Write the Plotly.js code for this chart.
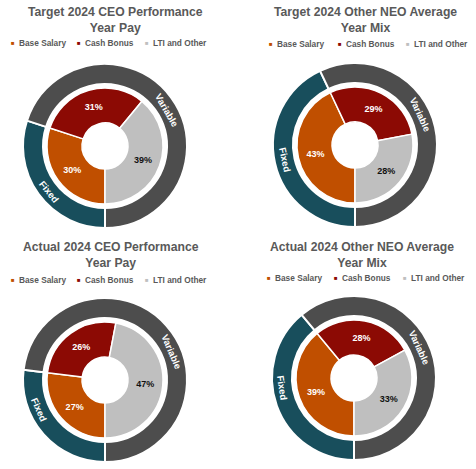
<!DOCTYPE html>
<html>
<head>
<meta charset="utf-8">
<script src="https://cdn.plot.ly/plotly-3.0.1.min.js"></script>
<style>
  html, body { margin: 0; padding: 0; background: #ffffff; }
  #chart { width: 476px; height: 469px; }
</style>
</head>
<body>
<div id="chart"></div>
<script>
// pay components (inner ring) and fixed / variable split (outer ring)
const COMPONENTS = ["Base Salary", "Cash Bonus", "LTI and Other"];
const MIX_GROUPS = ["Fixed", "Variable"];

const TARGET_CEO = [30, 31, 39];
const TARGET_NEO = [43, 29, 28];
const ACTUAL_CEO = [27, 26, 47];
const ACTUAL_NEO = [39, 28, 33];

const TARGET_CEO_MIX = [30, 70];
const TARGET_NEO_MIX = [43, 57];
const ACTUAL_CEO_MIX = [27, 73];
const ACTUAL_NEO_MIX = [39, 61];

const TITLES = [
  "Target 2024 CEO Performance<br>Year Pay",
  "Target 2024 Other NEO Average<br>Year Mix",
  "Actual 2024 CEO Performance<br>Year Pay",
  "Actual 2024 Other NEO Average<br>Year Mix",
];

const W = 476;
const H = 469;

const THEME = {
  base: "#c04f00",
  bonus: "#8c0a04",
  lti: "#bfbfbf",
  fixed: "#184e5c",
  variable: "#4d4d4d",
  title: "#595959",
  font: "\"Liberation Sans\", Arial, sans-serif",
};

// pixel placement of each panel: pie centre, title centre, legend row,
// and where the ring labels sit (degrees clockwise from 12 o'clock)
const PANELS = [
  { comp: TARGET_CEO, mix: TARGET_CEO_MIX, cx: 105, cy: 146, tx: 115, ty: 20, ly: 43, lx: [13, 79, 147], ringAt: [231, 60] },
  { comp: TARGET_NEO, mix: TARGET_NEO_MIX, cx: 355, cy: 145, tx: 365, ty: 20, ly: 44, lx: [271, 340, 408], ringAt: [258, 65] },
  { comp: ACTUAL_CEO, mix: ACTUAL_CEO_MIX, cx: 105, cy: 380, tx: 111, ty: 255, ly: 280, lx: [13, 79, 147], ringAt: [246, 67] },
  { comp: ACTUAL_NEO, mix: ACTUAL_NEO_MIX, cx: 354, cy: 378, tx: 362, ty: 255, ly: 278, lx: [269, 336, 405], ringAt: [262, 65] },
];

const OUTER_R = 82;
const OUTER_IN = 62;
const INNER_R = 58;
const INNER_IN = 23;
const START_ANGLE = 180; // first slice starts at 6 o'clock, clockwise

function domainFor(cx, cy, r) {
  return {
    x: [(cx - r) / W, (cx + r) / W],
    y: [(H - cy - r) / H, (H - cy + r) / H],
  };
}

const traces = [];
const annotations = [];

PANELS.forEach((p, i) => {
  traces.push({
    type: "pie",
    labels: MIX_GROUPS,
    values: p.mix,
    domain: domainFor(p.cx, p.cy, OUTER_R),
    hole: OUTER_IN / OUTER_R,
    sort: false,
    direction: "clockwise",
    rotation: START_ANGLE,
    showlegend: false,
    marker: { colors: [THEME.fixed, THEME.variable], line: { color: "#ffffff", width: 2 } },
    textinfo: "none",
    hoverinfo: "label+value",
  });
  traces.push({
    type: "pie",
    labels: COMPONENTS,
    values: p.comp,
    domain: domainFor(p.cx, p.cy, INNER_R),
    hole: INNER_IN / INNER_R,
    sort: false,
    direction: "clockwise",
    rotation: START_ANGLE,
    showlegend: false,
    marker: { colors: [THEME.base, THEME.bonus, THEME.lti], line: { color: "#ffffff", width: 1.5 } },
    texttemplate: "%{value}%",
    textposition: "inside",
    insidetextorientation: "horizontal",
    insidetextfont: { family: THEME.font, size: 9, color: ["#ffffff", "#ffffff", "#111111"], weight: 700 },
    hoverinfo: "label+value",
  });

  // ring labels, turned along the ring
  const rMid = (OUTER_R + OUTER_IN) / 2;
  MIX_GROUPS.forEach((name, k) => {
    const theta = p.ringAt[k];
    const rad = theta * Math.PI / 180;
    const x = p.cx + rMid * Math.sin(rad);
    const y = p.cy - rMid * Math.cos(rad);
    annotations.push({
      text: name,
      xref: "paper", yref: "paper",
      x: x / W, y: 1 - y / H,
      xanchor: "center", yanchor: "middle",
      textangle: theta % 180,
      showarrow: false,
      font: { family: THEME.font, size: 9.5, color: "#ffffff", weight: 700 },
    });
  });

  annotations.push({
    text: TITLES[i],
    xref: "paper", yref: "paper",
    x: p.tx / W, y: 1 - p.ty / H,
    xanchor: "center", yanchor: "middle",
    showarrow: false,
    font: { family: THEME.font, size: 12.2, color: THEME.title, weight: 700 },
  });

  const swatches = [THEME.base, THEME.bonus, THEME.lti];
  COMPONENTS.forEach((name, k) => {
    annotations.push({
      text: "■",
      xref: "paper", yref: "paper",
      x: p.lx[k] / W, y: 1 - p.ly / H,
      xanchor: "center", yanchor: "middle",
      showarrow: false,
      font: { family: THEME.font, size: 6, color: swatches[k] },
    });
    annotations.push({
      text: name,
      xref: "paper", yref: "paper",
      x: (p.lx[k] + 3.5) / W, y: 1 - p.ly / H,
      xanchor: "left", yanchor: "middle",
      showarrow: false,
      font: { family: THEME.font, size: 8.3, color: THEME.title, weight: 700 },
    });
  });
});

const layout = {
  width: W,
  height: H,
  margin: { l: 0, r: 0, t: 0, b: 0 },
  paper_bgcolor: "#ffffff",
  showlegend: false,
  annotations,
  font: { family: THEME.font },
};

Plotly.newPlot("chart", traces, layout, { displayModeBar: false, staticPlot: true });
</script>
</body>
</html>
